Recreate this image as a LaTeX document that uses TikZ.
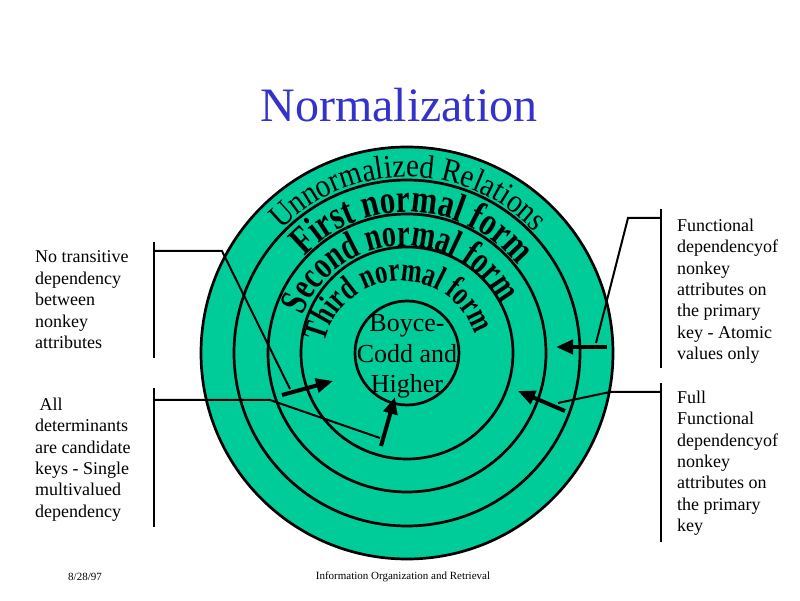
\documentclass[tikz,border=0pt]{standalone}
\usepackage{fontspec}
\setmainfont{Liberation Serif}
\newfontfamily\ringfont{Liberation Serif}[FakeStretch=0.88]
\newfontfamily\formfont{Liberation Serif}[FakeStretch=0.78]
\newfontfamily\narrowfont{Liberation Serif}[FakeStretch=0.73]
\usetikzlibrary{arrows.meta,decorations.text}
\definecolor{ringgreen}{RGB}{0,204,153}
\definecolor{titleblue}{RGB}{51,51,204}

\begin{document}
\begin{tikzpicture}[x=1pt,y=1pt,>={Triangle[length=17pt,width=14pt]},
  note/.style={anchor=north west,inner sep=0pt,align=left,font=\fontsize{18}{21.4}\selectfont},
  lead/.style={line width=2pt},
  pointer/.style={->,line width=4pt}]
\useasboundingbox (0,0) rectangle (800,600);
\coordinate (C) at (407,247);

% the rings
\fill[ringgreen] (C) circle (206);
\foreach \r in {206,173,139,106,52} \draw[line width=2.7pt] (C) circle (\r);

% names written round the rings
\path[decorate,decoration={text along path,text align=center,
  text={|\ringfont\fontsize{33}{33}\selectfont|Unnormalized Relations}}]
  (C) ++(164.5:176) arc[start angle=164.5,end angle=14.5,radius=176];
\path[decorate,decoration={text along path,text align=center,
  text={|\formfont\bfseries\fontsize{40}{40}\selectfont|First normal form}}]
  (C) ++(167.5:141) arc[start angle=167.5,end angle=7.5,radius=141];
\path[decorate,decoration={text along path,text align=center,
  text={|\narrowfont\bfseries\fontsize{39}{39}\selectfont|Second normal form}}]
  (404,245) ++(183:109) arc[start angle=183,end angle=3,radius=109];
\path[decorate,decoration={text along path,text align=center,
  text={|\narrowfont\bfseries\fontsize{34}{34}\selectfont|Third normal form}}]
  (401,241) ++(183:78) arc[start angle=183,end angle=3,radius=78];

\node (boyce) at (407,243.5)[inner sep=0pt,align=center,font=\fontsize{26}{30.5}\selectfont]{Boyce-\\Codd and\\Higher};

\node (title) at (399,478)[anchor=base,text=titleblue,font=\fontsize{48}{48}\selectfont]{Normalization};

% labels on the left
\node (notrans) at (35,349.3)[note]{No transitive\\dependency\\between\\nonkey\\attributes};
\node (alldet) at (35,202.3)[note]{~All\\determinants\\are candidate\\keys - Single\\multivalued\\dependency};
% labels on the right
\node (funcdep) at (677,381.3)[note]{Functional\\dependencyof\\nonkey\\attributes on\\the primary\\key - Atomic\\values only};
\node (fullfunc) at (677,209.3)[note]{Full\\Functional\\dependencyof\\nonkey\\attributes on\\the primary\\key};

% leads and pointers
\coordinate (nt-top) at (154,358);
\coordinate (nt-bot) at (154,242);
\coordinate (nt-a) at (154,349);
\coordinate (nt-b) at (222,349);
\coordinate (nt-c) at (290,211);
\coordinate (nt-tail) at (282,205);
\coordinate (nt-tip) at (333,219);
\draw[lead](nt-top)--(nt-bot);
\draw[lead](nt-a)--(nt-b)--(nt-c);
\draw[pointer](nt-tail)--(nt-tip);

\coordinate (ad-top) at (154,212);
\coordinate (ad-bot) at (154,73);
\coordinate (ad-a) at (154,200);
\coordinate (ad-b) at (270,200);
\coordinate (ad-c) at (380,162);
\coordinate (ad-tail) at (381,154);
\coordinate (ad-tip) at (395,203);
\draw[lead](ad-top)--(ad-bot);
\draw[lead](ad-a)--(ad-b)--(ad-c);
\draw[pointer](ad-tail)--(ad-tip);

\coordinate (fd-top) at (661,391);
\coordinate (fd-bot) at (661,232);
\coordinate (fd-a) at (661,382);
\coordinate (fd-b) at (628,382);
\coordinate (fd-c) at (596,257);
\coordinate (fd-tail) at (607,253);
\coordinate (fd-tip) at (556,253);
\draw[lead](fd-top)--(fd-bot);
\draw[lead](fd-a)--(fd-b)--(fd-c);
\draw[pointer](fd-tail)--(fd-tip);

\coordinate (ff-top) at (661,217);
\coordinate (ff-bot) at (661,58);
\coordinate (ff-a) at (661,208);
\coordinate (ff-b) at (610,208);
\coordinate (ff-c) at (558,197);
\coordinate (ff-tail) at (565,189);
\coordinate (ff-tip) at (518,209);
\draw[lead](ff-top)--(ff-bot);
\draw[lead](ff-a)--(ff-b)--(ff-c);
\draw[pointer](ff-tail)--(ff-tip);

% footer
\node (date) at (85,23)[font=\fontsize{11}{11}\selectfont]{8/28/97};
\node (course) at (403,23)[font=\fontsize{11}{11}\selectfont]{Information Organization and Retrieval};
\end{tikzpicture}
\end{document}
